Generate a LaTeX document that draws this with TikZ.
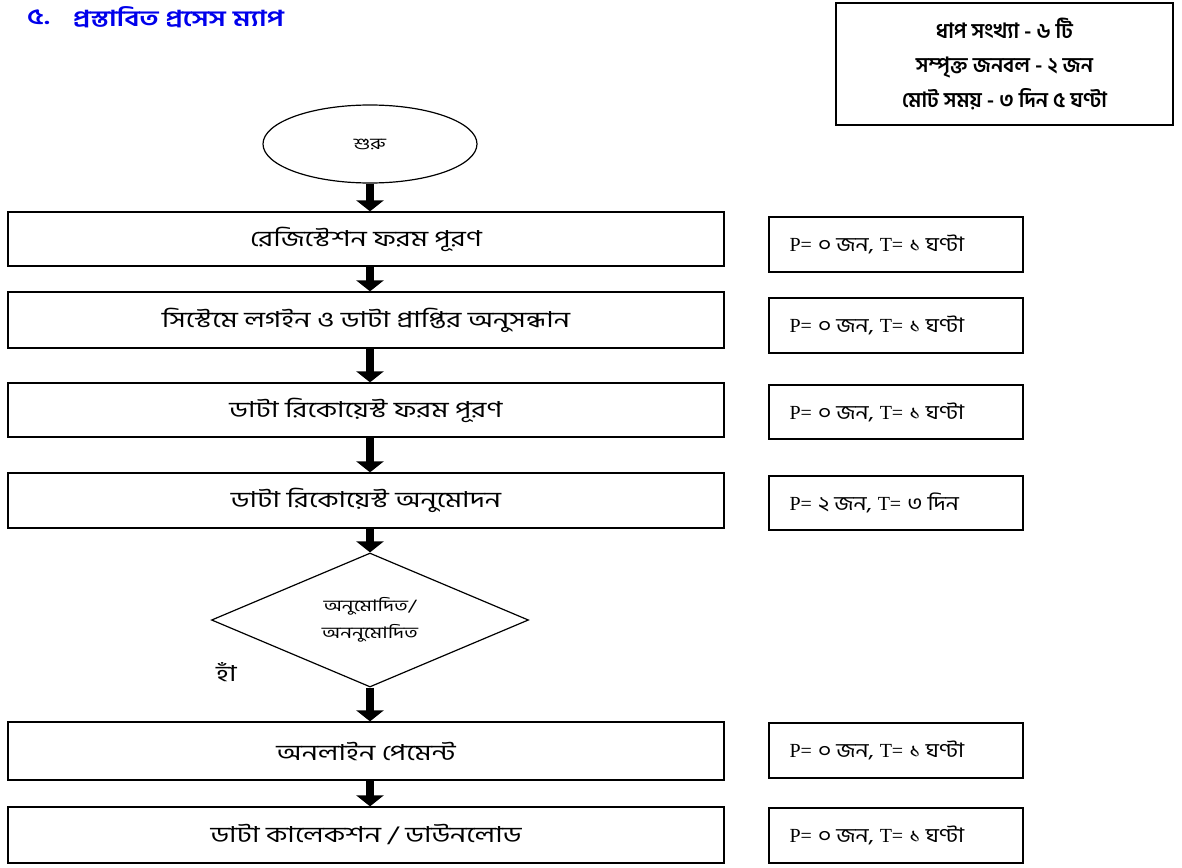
\documentclass[tikz,border=0pt]{standalone}
\usepackage{fontspec}
\newfontfamily\bn[Script=Bengali]{Hind Siliguri}
\newfontfamily\bnw[Script=Bengali,FakeStretch=1.3]{Hind Siliguri}
\newfontfamily\bns[Script=Bengali,FakeStretch=1.15]{Hind Siliguri}
\newfontfamily\tmr{Liberation Serif}
\usetikzlibrary{shapes.geometric,arrows.meta}
\definecolor{titleblue}{RGB}{0,0,235}
\newcommand{\ptlabel}[2]{{\tmr P=} {\bns #1 জন,} {\tmr T=} {\bns #2}}
\tikzset{
  stepbox/.style={draw, line width=1.3pt, minimum width=716pt, inner sep=0pt,
    font=\bnw\fontsize{22}{26}\selectfont},
  sidebox/.style={draw, line width=1.3pt, minimum width=254pt, inner sep=0pt},
  sidetext/.style={anchor=west, inner sep=0pt, font=\fontsize{20}{24}\selectfont},
  blk/.style={line width=8pt, -{Triangle[width=27pt,length=11pt]}},
  outline/.style={draw, line width=1.2pt, inner sep=0pt},
}
\begin{document}
\begin{tikzpicture}[x=1pt,y=-1pt]
\useasboundingbox (0,0) rectangle (1182,867);
% title
\node[anchor=west, inner sep=0pt, text=titleblue, font=\bnw\bfseries\fontsize{22}{26}\selectfont] (tn) at (27,17) {৫.};
\node[anchor=west, inner sep=0pt, text=titleblue, font=\bnw\bfseries\fontsize{22}{26}\selectfont] (tt) at (73,17) {প্রস্তাবিত প্রসেস ম্যাপ};
% info box
\node[draw, line width=1.3pt, minimum width=337pt, minimum height=122pt, inner sep=0pt, align=center,
  font=\bn\bfseries\fontsize{21}{34.5}\selectfont] (info) at (1004.5,64)
  {ধাপ সংখ্যা - ৬ টি\\সম্পৃক্ত জনবল - ২ জন\\মোট সময় - ৩ দিন ৫ ঘণ্টা};
% start
\node[ellipse, outline, minimum width=214pt, minimum height=78pt, font=\bnw\fontsize{16}{18}\selectfont] (e) at (370,144) {শুরু};
% steps
\node[stepbox, minimum height=54pt] (b1) at (366,239) {রেজিস্টেশন ফরম পূরণ};
\node[stepbox, minimum height=56pt] (b2) at (366,320) {সিস্টেমে লগইন ও ডাটা প্রাপ্তির অনুসন্ধান};
\node[stepbox, minimum height=54pt] (b3) at (366,410) {ডাটা রিকোয়েস্ট ফরম পূরণ};
\node[stepbox, minimum height=55pt] (b4) at (366,500.5) {ডাটা রিকোয়েস্ট অনুমোদন};
\node[diamond, outline, aspect=2.366, minimum width=317pt, minimum height=134pt, align=center,
  font=\bnw\fontsize{16}{27}\selectfont] (d) at (370,620) {অনুমোদিত/\\অননুমোদিত};
\node[anchor=west, inner sep=0pt, font=\bnw\fontsize{22}{24}\selectfont] (yes) at (216,672) {হাঁ};
\node[stepbox, minimum height=58pt] (b5) at (366,751) {অনলাইন পেমেন্ট};
\node[stepbox, minimum height=56pt] (b6) at (366,835) {ডাটা কালেকশন / ডাউনলোড};
% side boxes
\node[sidebox, minimum height=55pt] (s1) at (896,244.5) {};
\node[sidebox, minimum height=55pt] (s2) at (896,325.5) {};
\node[sidebox, minimum height=54pt] (s3) at (896,412) {};
\node[sidebox, minimum height=54pt] (s4) at (896,503) {};
\node[sidebox, minimum height=55pt] (s5) at (896,750.5) {};
\node[sidebox, minimum height=55pt] (s6) at (896,835.5) {};
\node[sidetext] (t1) at ([xshift=21pt]s1.west) {\ptlabel{০}{১ ঘণ্টা}};
\node[sidetext] (t2) at ([xshift=21pt]s2.west) {\ptlabel{০}{১ ঘণ্টা}};
\node[sidetext] (t3) at ([xshift=21pt]s3.west) {\ptlabel{০}{১ ঘণ্টা}};
\node[sidetext] (t4) at ([xshift=21pt]s4.west) {\ptlabel{২}{৩ দিন}};
\node[sidetext] (t5) at ([xshift=21pt]s5.west) {\ptlabel{০}{১ ঘণ্টা}};
\node[sidetext] (t6) at ([xshift=21pt]s6.west) {\ptlabel{০}{১ ঘণ্টা}};
% arrows
\draw[blk] (e.south) -- (b1.north -| e.south);
\draw[blk] (b1.south -| e.south) -- (b2.north -| e.south);
\draw[blk] (b2.south -| e.south) -- (b3.north -| e.south);
\draw[blk] (b3.south -| e.south) -- (b4.north -| e.south);
\draw[blk] (b4.south -| e.south) -- (d.north);
\draw[blk] (d.south) -- (b5.north -| e.south);
\draw[blk] (b5.south -| e.south) -- (b6.north -| e.south);
\end{tikzpicture}
\end{document}
